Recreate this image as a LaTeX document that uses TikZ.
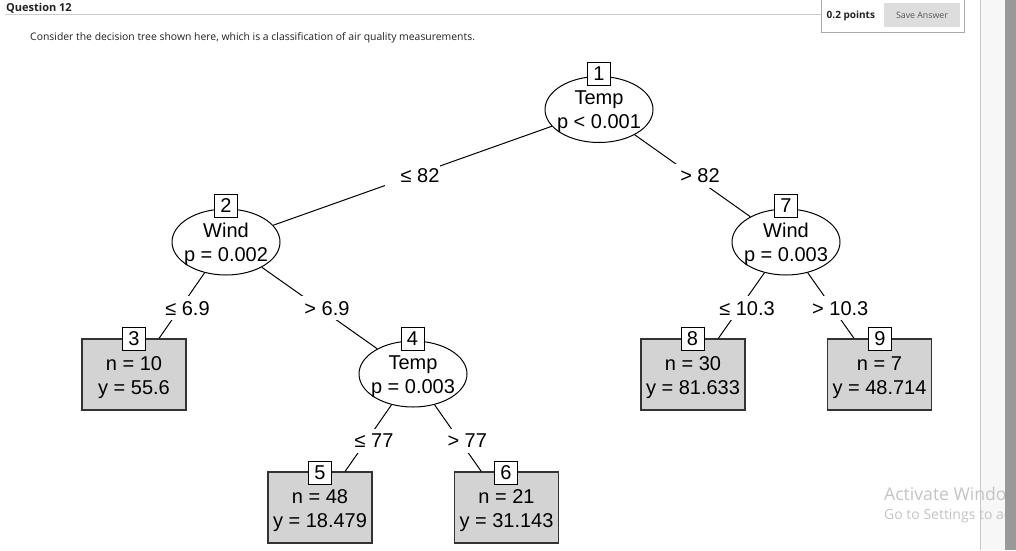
\documentclass[tikz,border=0pt]{standalone}
\usepackage{fontspec}
\setmainfont{Liberation Sans}
\newfontfamily\uifont{Open Sans}
\usetikzlibrary{shapes.geometric,calc}
\definecolor{termgray}{HTML}{D3D3D3}
\definecolor{termline}{HTML}{333333}
\definecolor{rulegray}{HTML}{CCCCCC}
\definecolor{boxgray}{HTML}{AAAAAA}
\definecolor{btngray}{HTML}{DDDDDD}
\definecolor{btntext}{HTML}{555555}
\definecolor{panelgray}{HTML}{F7F7F7}
\definecolor{panelline}{HTML}{C8C8C8}
\definecolor{scrollgray}{HTML}{999999}
\definecolor{wmgray}{HTML}{C4C4C4}
\definecolor{pagetext}{HTML}{222222}
\tikzset{
  inner/.style={ellipse, draw=black, fill=white, line width=1pt, minimum width=108pt, minimum height=66pt, inner sep=0pt},
  term/.style={rectangle, draw=termline, fill=termgray, line width=1.2pt, minimum width=104pt, minimum height=71pt, inner sep=0pt},
  idbox/.style={rectangle, draw=black, fill=white, line width=1pt, minimum width=23pt, minimum height=23pt, inner sep=0pt, font=\fontsize{20}{24}\selectfont},
  ntext/.style={align=center, font=\fontsize{20}{24}\selectfont, inner sep=0pt},
  edge/.style={line width=1pt, black},
  elabel/.style={fill=white, inner xsep=1pt, inner ysep=0pt, minimum height=24pt, text height=14.3pt, text depth=0pt, font=\fontsize{20}{24}\selectfont},
  uitext/.style={inner sep=0pt, text=pagetext},
}
\begin{document}
\begin{tikzpicture}[x=1pt,y=-1pt]
\useasboundingbox (0,0) rectangle (1016,550);
\fill[white] (0,0) rectangle (1016,550);
% page chrome
\node[uitext, anchor=base west, font=\uifont\bfseries\fontsize{11}{13}\selectfont] (q) at (6,11) {Question 12};
\draw[rulegray, line width=1pt] (5,14) -- (821.5,14);
\draw[boxgray, line width=1pt] (821.5,-3) rectangle (964.5,32.3);
\node[uitext, anchor=west, font=\uifont\bfseries\fontsize{10}{12}\selectfont] (pts) at (826.5,15.5) {0.2 points};
\node[fill=btngray, minimum width=76pt, minimum height=23.5pt, inner sep=0pt, text=btntext, font=\uifont\fontsize{8.8}{10}\selectfont] (save) at (922,15) {Save Answer};
\node[uitext, anchor=west, font=\uifont\fontsize{10.4}{12}\selectfont] (intro) at (30,38) {Consider the decision tree shown here, which is a classification of air quality measurements.};
\fill[panelgray] (981,0) rectangle (1005,550);
\draw[panelline, line width=1pt] (980.7,0) -- (980.7,550);
\begin{scope}
\clip (0,0) rectangle (1005,550);
\node[inner sep=0pt, anchor=base west, text=wmgray, font=\uifont\fontsize{17.6}{20}\selectfont] (wm1) at (884,500) {Activate Windows};
\node[inner sep=0pt, anchor=base west, text=wmgray, font=\uifont\fontsize{14}{16}\selectfont] (wm2) at (884,519) {Go to Settings to activate Windows.};
\end{scope}
\fill[scrollgray] (1005,0) rectangle (1016,550);
% tree nodes
\node[inner] (n1) at (599,109.5) {};
\node[inner] (n2) at (226,242) {};
\node[inner] (n7) at (786,242) {};
\node[inner] (n4) at (413,374) {};
\node[term] (n3) at (134,374.5) {};
\node[term] (n8) at (693,374.5) {};
\node[term] (n9) at (879.5,374.5) {};
\node[term] (n5) at (320,507.5) {};
\node[term] (n6) at (506.5,507.5) {};
% node texts
\node[ntext] (t1) at ($(n1.center)+(0,2.5)$) {Temp\\p < 0.001};
\node[ntext] (t2) at ($(n2.center)+(0,2.5)$) {Wind\\p = 0.002};
\node[ntext] (t7) at ($(n7.center)+(0,2.5)$) {Wind\\p = 0.003};
\node[ntext] (t4) at ($(n4.center)+(0,2.5)$) {Temp\\p = 0.003};
\node[ntext] (t3) at ($(n3.center)+(0,3.5)$) {n = 10\\y = 55.6};
\node[ntext] (t8) at ($(n8.center)+(0,3.5)$) {n = 30\\y = 81.633};
\node[ntext] (t9) at ($(n9.center)+(0,3.5)$) {n = 7\\y = 48.714};
\node[ntext] (t5) at ($(n5.center)+(0,3.5)$) {n = 48\\y = 18.479};
\node[ntext] (t6) at ($(n6.center)+(0,3.5)$) {n = 21\\y = 31.143};
% edges
\draw[edge] (n1) -- (n2);
\draw[edge] (n1) -- (n7);
\draw[edge] (n2) -- (n3);
\draw[edge] (n2) -- (n4);
\draw[edge] (n4) -- (n5);
\draw[edge] (n4) -- (n6);
\draw[edge] (n7) -- (n8);
\draw[edge] (n7) -- (n9);
% edge labels
\node[elabel] (l12) at ($(n1.center)!0.5!(n2.center)$) {\hspace*{15pt}≤ 82};
\node[elabel] (l17) at ($(n1.center)!0.5!(n7.center)$) {\hspace*{15pt}> 82};
\node[elabel] (l23) at ($(n2.center)!0.5!(n3.center)$) {\hspace*{15pt}≤ 6.9};
\node[elabel] (l24) at ($(n2.center)!0.5!(n4.center)$) {\hspace*{15pt}> 6.9};
\node[elabel] (l45) at ($(n4.center)!0.5!(n5.center)$) {\hspace*{15pt}≤ 77};
\node[elabel] (l46) at ($(n4.center)!0.5!(n6.center)$) {\hspace*{15pt}> 77};
\node[elabel] (l78) at ($(n7.center)!0.5!(n8.center)$) {\hspace*{15pt}≤ 10.3};
\node[elabel] (l79) at ($(n7.center)!0.5!(n9.center)$) {\hspace*{15pt}> 10.3};
% id boxes
\node[idbox] (b1) at (599,73.5) {1};
\node[idbox] (b2) at (226,206) {2};
\node[idbox] (b7) at (786,206) {7};
\node[idbox] (b4) at (412.5,338.5) {4};
\node[idbox] (b3) at (134,339) {3};
\node[idbox] (b8) at (692.5,339) {8};
\node[idbox] (b9) at (880,339) {9};
\node[idbox] (b5) at (320,473) {5};
\node[idbox] (b6) at (506,473) {6};
\end{tikzpicture}
\end{document}
